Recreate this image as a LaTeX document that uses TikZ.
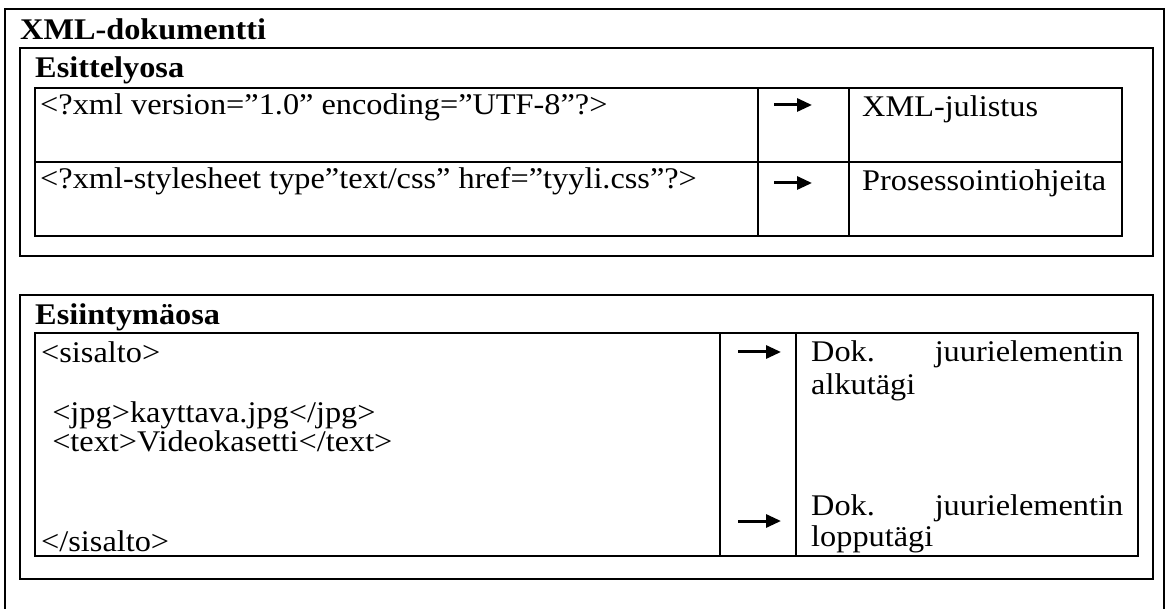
\documentclass[tikz,border=0pt]{standalone}
\usepackage{fontspec}
\setmainfont[FakeStretch=1.077]{Liberation Serif}
\usetikzlibrary{arrows.meta}
\begin{document}
\begin{tikzpicture}[x=1pt,y=-1pt,
  frame/.style={line width=1.4pt},
  txt/.style={anchor=base west,inner sep=0pt,font=\fontsize{30}{34}\selectfont},
  head/.style={txt,font=\fontsize{30}{34}\selectfont\bfseries},
  pointer/.style={line width=3pt,-{Triangle[length=15pt,width=13pt]}}]
\useasboundingbox (0,0) rectangle (1168,609);

% outer document frame (runs past the lower edge)
\draw[frame] (5,625) -- (5,9) -- (1164,9) -- (1164,625);
\node[head] (title) at (20,40) {XML-dokumentti};

% --- prolog part ---
\draw[frame] (20,48) rectangle (1153,256);
\node[head] (prolog) at (35,78) {Esittelyosa};
\draw[frame] (35,88) rectangle (1122,236);
\draw[frame] (35,162) -- (1122,162);
\draw[frame] (758,88) -- (758,236);
\draw[frame] (849,88) -- (849,236);

\node[txt] (decl) at (40,115) {<?xml version=”1.0” encoding=”UTF-8”?>};
\node[txt] (declname) at (862,117) {XML-julistus};
\node[txt] (pi) at (40,189) {<?xml-stylesheet type”text/css” href=”tyyli.css”?>};
\node[txt] (piname) at (862,191) {Prosessointiohjeita};

\coordinate (a1s) at (774,105); \coordinate (a1e) at (812,105);
\coordinate (a2s) at (774,183); \coordinate (a2e) at (812,183);
\draw[pointer] (a1s) -- (a1e);
\draw[pointer] (a2s) -- (a2e);

% --- instance part ---
\draw[frame] (20,295) rectangle (1153,579);
\node[head] (inst) at (35,325) {Esiintymäosa};
\draw[frame] (35,333) rectangle (1138,556);
\draw[frame] (720,333) -- (720,556);
\draw[frame] (796,333) -- (796,556);

\node[txt] (open) at (41,363) {<sisalto>};
\node[txt] (jpg) at (44,423) {\ <jpg>kayttava.jpg</jpg>};
\node[txt] (text) at (44,452) {\ <text>Videokasetti</text>};
\node[txt] (close) at (41,551) {</sisalto>};

\node[txt] (startA) at (811,362) {\hbox to 312pt{Dok.\hfill juurielementin}};
\node[txt] (startB) at (811,395) {alkutägi};
\node[txt] (endA) at (811,515) {\hbox to 312pt{Dok.\hfill juurielementin}};
\node[txt] (endB) at (811,547) {lopputägi};

\coordinate (b1s) at (738,352); \coordinate (b1e) at (781,352);
\coordinate (b2s) at (738,521); \coordinate (b2e) at (781,521);
\draw[pointer] (b1s) -- (b1e);
\draw[pointer] (b2s) -- (b2e);
\end{tikzpicture}
\end{document}
